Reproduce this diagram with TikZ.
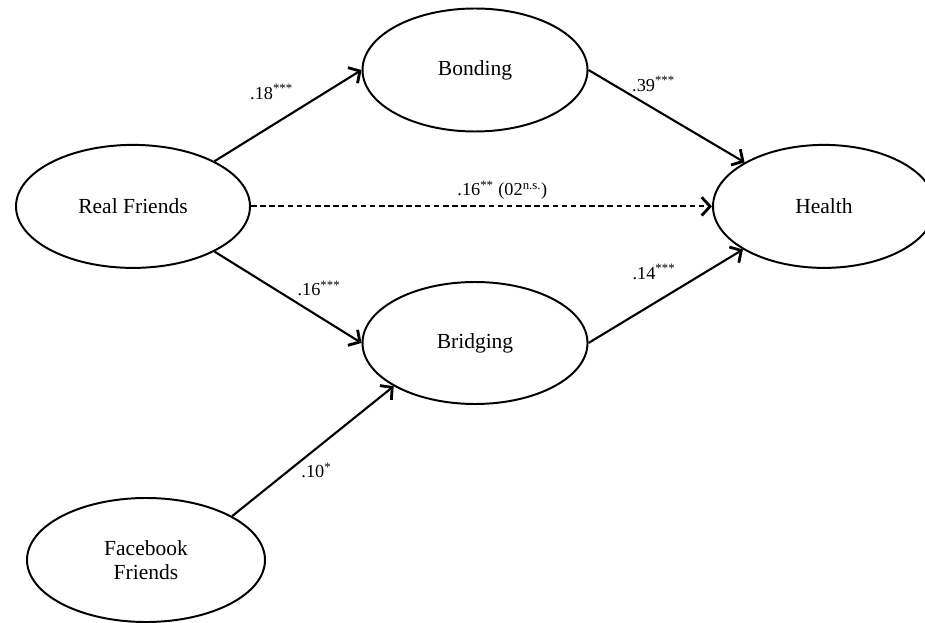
\documentclass[tikz,border=0pt]{standalone}
\usepackage{fontspec}
\setmainfont{Liberation Serif}
\usetikzlibrary{arrows.meta,shapes.geometric}

\begin{document}
\begin{tikzpicture}[
    construct/.style={ellipse, draw, line width=1.4pt, inner sep=0pt, align=center,
      font=\fontsize{15.3}{17.5}\selectfont},
    effect/.style={-{Straight Barb[length=6pt,width=13pt,line width=2pt]}, line width=1.5pt},
    coef/.style={font=\fontsize{13}{15}\selectfont, inner sep=0pt}
  ]
    \useasboundingbox (0,0) rectangle (23.125,15.55);

    % Constructs
    \node[construct, minimum width=5.85cm, minimum height=3.075cm] (realfr) at (3.325,10.39) {Real Friends};
    \node[construct, minimum width=5.625cm, minimum height=3.075cm] (bond) at (11.875,13.8) {Bonding};
    \node[construct, minimum width=5.625cm, minimum height=3.05cm] (bridg) at (11.875,6.975) {Bridging};
    \node[construct, minimum width=5.55cm, minimum height=3.075cm] (health) at (20.6,10.39) {Health};
    \node[construct, minimum width=5.95cm, minimum height=3.1cm] (fbfr) at (3.65,1.55) {Facebook\\Friends};

    % Paths
    \draw[effect] (realfr.29) -- (bond.west);
    \draw[effect] (bond.east) -- (health.151);
    \draw[effect, dash pattern=on 4pt off 2.5pt] (realfr.east) -- (health.west);
    \draw[effect] (realfr.-29) -- (bridg.west);
    \draw[effect] (bridg.east) -- (health.208);
    \draw[effect] (fbfr.27) -- (bridg.208);

    % Coefficients
    \node[coef] (c18) at (6.79,13.25) {.18\textsuperscript{***}};
    \node[coef] (c39) at (16.34,13.45) {.39\textsuperscript{***}};
    \node[coef] (c16d) at (12.56,10.8) {.16\textsuperscript{**} (02\textsuperscript{n.s.})};
    \node[coef] (c16) at (7.975,8.33) {.16\textsuperscript{***}};
    \node[coef] (c14) at (16.35,8.75) {.14\textsuperscript{***}};
    \node[coef] (c10) at (7.91,3.78) {.10\textsuperscript{*}};
\end{tikzpicture}
\end{document}
